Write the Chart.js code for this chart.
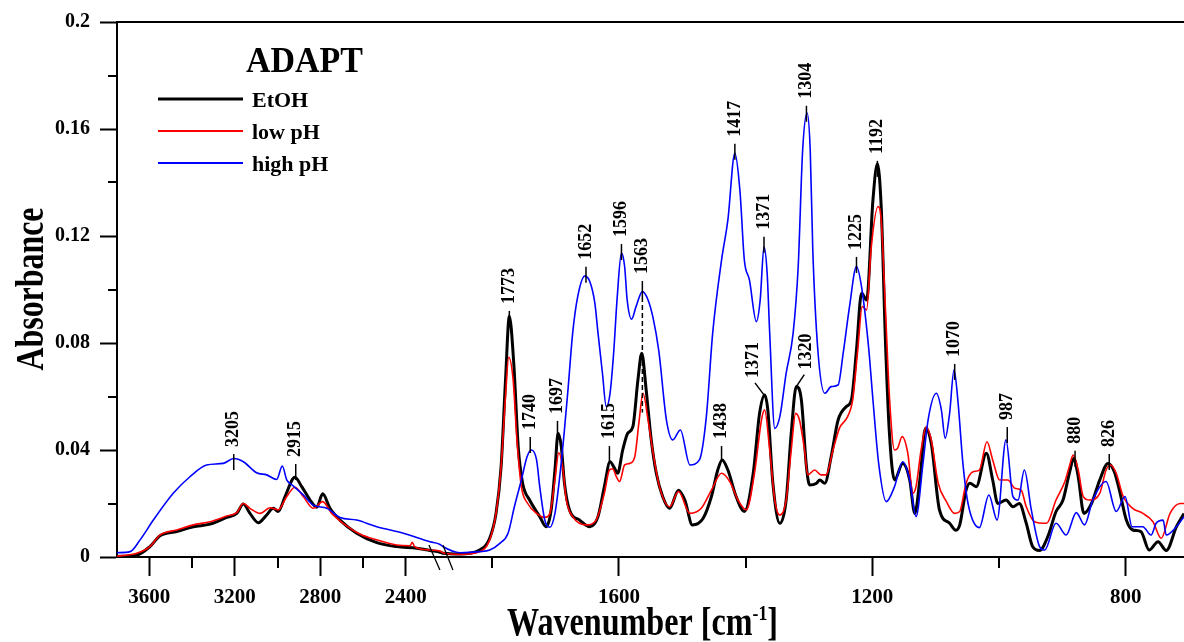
<!DOCTYPE html>
<html>
<head>
<meta charset="utf-8">
<script src="https://cdn.jsdelivr.net/npm/chart.js@4.4.1/dist/chart.umd.min.js"></script>
<style>
  html, body { margin: 0; padding: 0; background: #fff; }
</style>
</head>
<body>
<canvas id="spectrum" width="1184" height="642"></canvas>
<script>
/* ===== DATA ===== */
// EtOH
const etohWn = [
  3751, 3659, 3597, 3550, 3472, 3394, 3316, 3238, 3191, 3160,
  3129, 3090, 3051, 3020, 2997, 2965, 2919, 2887, 2848, 2817,
  2789, 2755, 2708, 2630, 2536, 2443, 2349, 2287, 2240, 1878,
  1851, 1820, 1804, 1794, 1786, 1779, 1773, 1766, 1759, 1752,
  1741, 1725, 1715, 1707, 1701, 1696, 1691, 1686, 1678, 1662,
  1646, 1633, 1623, 1614, 1607, 1602, 1594, 1586, 1578, 1570,
  1564, 1557, 1549, 1541, 1531, 1520, 1506, 1496, 1484, 1467,
  1454, 1444, 1437, 1428, 1415, 1402, 1388, 1378, 1370, 1365,
  1357, 1346, 1336, 1328, 1320, 1312, 1304, 1299, 1288, 1283,
  1275, 1265, 1254, 1241, 1233, 1225, 1217, 1209, 1199, 1192,
  1186, 1179, 1173, 1165, 1152, 1141, 1133, 1125, 1116, 1107,
  1094, 1078, 1068, 1062, 1052, 1046, 1036, 1020, 1010, 1002,
  989, 978, 968, 957, 947, 936, 923, 910, 899, 889,
  882, 875, 866, 854, 841, 828, 818, 810, 799, 789,
  776, 763, 749, 736, 720, 708
];
const etohAbs = [
  0.0002, 0.0007, 0.0039, 0.0079, 0.0095, 0.0113, 0.0123, 0.0148, 0.0163, 0.0198,
  0.0163, 0.0128, 0.0157, 0.0182, 0.0170, 0.0226, 0.0298, 0.0263, 0.0213, 0.0186,
  0.0236, 0.0182, 0.0138, 0.0089, 0.0054, 0.0039, 0.0033, 0.0024, 0.0018, 0.0014,
  0.0011, 0.0026, 0.0070, 0.0163, 0.0338, 0.0662, 0.0900, 0.0724, 0.0413, 0.0276,
  0.0213, 0.0151, 0.0113, 0.0176, 0.0325, 0.0463, 0.0413, 0.0276, 0.0176, 0.0138,
  0.0113, 0.0151, 0.0263, 0.0356, 0.0332, 0.0313, 0.0400, 0.0463, 0.0487, 0.0662,
  0.0762, 0.0625, 0.0438, 0.0313, 0.0226, 0.0182, 0.0250, 0.0213, 0.0120, 0.0145,
  0.0226, 0.0325, 0.0363, 0.0325, 0.0226, 0.0170, 0.0313, 0.0537, 0.0606, 0.0550,
  0.0276, 0.0126, 0.0213, 0.0463, 0.0637, 0.0587, 0.0338, 0.0269, 0.0276, 0.0288,
  0.0276, 0.0375, 0.0512, 0.0562, 0.0587, 0.0774, 0.0986, 0.0961, 0.1335, 0.1470,
  0.1310, 0.0787, 0.0463, 0.0288, 0.0350, 0.0288, 0.0163, 0.0288, 0.0481, 0.0425,
  0.0176, 0.0126, 0.0100, 0.0120, 0.0250, 0.0276, 0.0263, 0.0388, 0.0288, 0.0200,
  0.0213, 0.0188, 0.0200, 0.0126, 0.0039, 0.0024, 0.0076, 0.0170, 0.0213, 0.0313,
  0.0369, 0.0300, 0.0163, 0.0200, 0.0288, 0.0350, 0.0319, 0.0250, 0.0138, 0.0101,
  0.0095, 0.0026, 0.0057, 0.0024, 0.0113, 0.0163
];

// low pH
const lowWn = [
  3751, 3659, 3597, 3550, 3472, 3394, 3316, 3238, 3191, 3160,
  3129, 3082, 3035, 2997, 2957, 2919, 2880, 2833, 2789, 2747,
  2693, 2615, 2536, 2443, 2380, 2370, 2360, 2287, 2240, 1878,
  1851, 1820, 1804, 1794, 1786, 1779, 1774, 1767, 1761, 1754,
  1744, 1730, 1717, 1709, 1701, 1695, 1689, 1683, 1673, 1651,
  1636, 1623, 1615, 1610, 1604, 1599, 1591, 1583, 1575, 1568,
  1562, 1554, 1546, 1536, 1520, 1506, 1488, 1470, 1454, 1438,
  1425, 1412, 1399, 1386, 1375, 1370, 1362, 1354, 1346, 1336,
  1328, 1321, 1315, 1307, 1302, 1291, 1281, 1273, 1262, 1252,
  1239, 1231, 1223, 1216, 1209, 1202, 1191, 1186, 1179, 1173,
  1165, 1160, 1153, 1144, 1136, 1131, 1123, 1115, 1107, 1096,
  1083, 1070, 1062, 1052, 1041, 1031, 1019, 1010, 999, 986,
  975, 965, 957, 944, 925, 910, 896, 889, 883, 875,
  867, 857, 841, 831, 824, 815, 804, 789, 773, 757,
  744, 730, 714, 708
];
const lowAbs = [
  0.0003, 0.0014, 0.0039, 0.0082, 0.0101, 0.0120, 0.0132, 0.0153, 0.0166, 0.0200,
  0.0182, 0.0163, 0.0184, 0.0176, 0.0226, 0.0261, 0.0226, 0.0182, 0.0207, 0.0163,
  0.0126, 0.0086, 0.0064, 0.0045, 0.0042, 0.0055, 0.0040, 0.0026, 0.0022, 0.0016,
  0.0010, 0.0020, 0.0064, 0.0163, 0.0338, 0.0600, 0.0747, 0.0662, 0.0438, 0.0263,
  0.0200, 0.0163, 0.0148, 0.0163, 0.0288, 0.0390, 0.0338, 0.0213, 0.0151, 0.0120,
  0.0138, 0.0238, 0.0325, 0.0330, 0.0300, 0.0282, 0.0344, 0.0350, 0.0375, 0.0512,
  0.0612, 0.0512, 0.0388, 0.0263, 0.0188, 0.0245, 0.0163, 0.0182, 0.0250, 0.0313,
  0.0282, 0.0213, 0.0176, 0.0313, 0.0512, 0.0550, 0.0400, 0.0213, 0.0157, 0.0213,
  0.0400, 0.0537, 0.0512, 0.0400, 0.0307, 0.0325, 0.0307, 0.0307, 0.0400, 0.0481,
  0.0525, 0.0587, 0.0774, 0.0936, 0.0924, 0.1150, 0.1310, 0.1260, 0.0911, 0.0600,
  0.0400, 0.0407, 0.0450, 0.0388, 0.0238, 0.0263, 0.0400, 0.0487, 0.0438, 0.0276,
  0.0207, 0.0163, 0.0170, 0.0276, 0.0319, 0.0325, 0.0431, 0.0363, 0.0288, 0.0288,
  0.0257, 0.0250, 0.0188, 0.0132, 0.0126, 0.0213, 0.0282, 0.0338, 0.0381, 0.0325,
  0.0226, 0.0213, 0.0238, 0.0325, 0.0344, 0.0313, 0.0226, 0.0182, 0.0163, 0.0132,
  0.0070, 0.0163, 0.0200, 0.0200
];

// high pH
const highWn = [
  3751, 3690, 3643, 3581, 3488, 3410, 3332, 3254, 3205, 3160,
  3098, 3051, 3004, 2978, 2957, 2927, 2880, 2833, 2770, 2708,
  2630, 2536, 2412, 2287, 2240, 1878, 1851, 1820, 1804, 1788,
  1775, 1765, 1754, 1745, 1738, 1730, 1725, 1717, 1709, 1701,
  1694, 1686, 1680, 1673, 1665, 1654, 1646, 1638, 1633, 1626,
  1620, 1614, 1608, 1603, 1596, 1591, 1587, 1580, 1573, 1563,
  1554, 1546, 1537, 1525, 1515, 1503, 1488, 1473, 1462, 1452,
  1438, 1428, 1417, 1409, 1402, 1394, 1383, 1377, 1371, 1366,
  1362, 1354, 1346, 1336, 1325, 1317, 1310, 1303, 1298, 1294,
  1286, 1275, 1265, 1254, 1246, 1236, 1225, 1217, 1206, 1199,
  1190, 1178, 1165, 1152, 1141, 1131, 1120, 1112, 1099, 1091,
  1085, 1078, 1071, 1065, 1057, 1049, 1031, 1016, 1003, 989,
  978, 970, 960, 949, 936, 928, 910, 894, 878, 865,
  852, 831, 815, 801, 790, 773, 760, 752, 741, 736,
  720, 708
];
const highAbs = [
  0.0016, 0.0020, 0.0064, 0.0138, 0.0238, 0.0300, 0.0344, 0.0350, 0.0368, 0.0356,
  0.0315, 0.0307, 0.0290, 0.0340, 0.0288, 0.0266, 0.0232, 0.0194, 0.0182, 0.0148,
  0.0138, 0.0113, 0.0089, 0.0057, 0.0047, 0.0039, 0.0016, 0.0020, 0.0026, 0.0051,
  0.0089, 0.0188, 0.0288, 0.0375, 0.0400, 0.0363, 0.0263, 0.0138, 0.0111, 0.0163,
  0.0288, 0.0475, 0.0637, 0.0837, 0.0974, 0.1050, 0.1030, 0.0949, 0.0837, 0.0687,
  0.0562, 0.0612, 0.0774, 0.0961, 0.1136, 0.1086, 0.0961, 0.0889, 0.0936, 0.0992,
  0.0961, 0.0893, 0.0770, 0.0512, 0.0438, 0.0475, 0.0344, 0.0363, 0.0525, 0.0837,
  0.1110, 0.1260, 0.1510, 0.1370, 0.1110, 0.1036, 0.0880, 0.0961, 0.1160, 0.1060,
  0.0837, 0.0481, 0.0525, 0.0687, 0.0837, 0.1086, 0.1520, 0.1660, 0.1520, 0.1150,
  0.0774, 0.0612, 0.0637, 0.0643, 0.0762, 0.0936, 0.1086, 0.1010, 0.0787, 0.0587,
  0.0350, 0.0207, 0.0263, 0.0356, 0.0288, 0.0151, 0.0350, 0.0512, 0.0612, 0.0550,
  0.0444, 0.0537, 0.0700, 0.0587, 0.0350, 0.0201, 0.0110, 0.0232, 0.0138, 0.0438,
  0.0226, 0.0213, 0.0325, 0.0176, 0.0039, 0.0026, 0.0126, 0.0082, 0.0166, 0.0120,
  0.0213, 0.0282, 0.0170, 0.0226, 0.0113, 0.0113, 0.0082, 0.0126, 0.0138, 0.0082,
  0.0113, 0.0151
];

// peak labels: text, absorbance at the foot of the marker, sideways shift of the label (px)
const peakLabels = ['3205', '2915', '1773', '1740', '1697', '1652', '1615', '1596', '1563', '1438',
  '1417', '1371', '1371', '1320', '1304', '1225', '1192', '1070', '987', '880', '826'];
const peakAbs = [0.0325, 0.0288, 0.0860, 0.0389, 0.0449, 0.1025, 0.0355, 0.1110, 0.0972, 0.0355,
  0.1485, 0.1137, 0.0606, 0.0637, 0.1627, 0.1062, 0.1421, 0.0662, 0.0426, 0.0337, 0.0325];
const peakShift = [0, 0, 0, 0, 0, 0, 0, 0, 0, 0,
  0, 0, -11, 10, 0, 0, 0, 0, 0, 0, 0];
// dashed drop line under 1563
const dropWn = 1563, dropTop = 0.0972, dropBottom = 0.054;

// axis ticks
const xTickWn = [3600, 3400, 3200, 3000, 2800, 2600, 2400, 1800, 1600, 1400, 1200, 1000, 800];
const xTickLabels = ['3600', '', '3200', '', '2800', '', '2400', '', '1600', '', '1200', '', '800'];
const yTickVals = [0, 0.02, 0.04, 0.06, 0.08, 0.1, 0.12, 0.14, 0.16, 0.18, 0.2];
const yTickLabels = ['0', '', '0.04', '', '0.08', '', '0.12', '', '0.16', '', '0.2'];

/* ===== BROKEN X AXIS ===== */
const LEFT_START = 3751, BREAK_LEFT = 2236, BREAK_RIGHT = 1881, RIGHT_END = 708;
const LEFT_SQUEEZE = 0.3375;
const U_BREAK = (LEFT_START - BREAK_LEFT) * LEFT_SQUEEZE;
const U_MAX = U_BREAK + (BREAK_RIGHT - RIGHT_END);

function toU(w) {
  return w >= BREAK_LEFT ? (LEFT_START - w) * LEFT_SQUEEZE : U_BREAK + (BREAK_RIGHT - w);
}
function pts(wn, abs) {
  return wn.map((w, i) => ({ x: toU(w), y: abs[i] }));
}

const SERIF = '"Liberation Serif", "Times New Roman", serif';
Chart.defaults.font.family = SERIF;
Chart.defaults.color = '#000';

function line(ctx, x1, y1, x2, y2) {
  ctx.beginPath(); ctx.moveTo(x1, y1); ctx.lineTo(x2, y2); ctx.stroke();
}
// text squeezed to a given width (the axis titles use a narrow face)
function fitText(ctx, text, x, y, width) {
  const w = ctx.measureText(text).width;
  ctx.save();
  ctx.translate(x, y);
  ctx.scale(width / w, 1);
  ctx.fillText(text, 0, 0);
  ctx.restore();
}

/* ===== DECORATION ===== */
const decor = {
  id: 'decor',
  afterDraw(chart) {
    const { ctx, chartArea: a, scales: { x, y } } = chart;
    ctx.save();
    ctx.strokeStyle = '#000';
    ctx.fillStyle = '#000';

    // top frame + minor ticks
    ctx.lineWidth = 2;
    line(ctx, a.left, a.top, a.right, a.top);
    x.ticks.forEach((t, i) => {
      if (xTickLabels[i]) return;
      const px = Math.round(x.getPixelForValue(t.value));
      line(ctx, px, a.bottom, px, a.bottom + 11);
    });
    y.ticks.forEach((t, i) => {
      if (yTickLabels[i]) return;
      const py = Math.round(y.getPixelForValue(t.value));
      line(ctx, a.left - 9, py, a.left, py);
    });

    // axis break marks
    const bx = x.getPixelForValue(U_BREAK);
    ctx.lineWidth = 1.3;
    line(ctx, bx - 12, a.bottom - 12, bx - 1, a.bottom + 13);
    line(ctx, bx + 2, a.bottom - 12, bx + 12, a.bottom + 13);

    // peak markers and labels
    ctx.font = 'bold 18px ' + SERIF;
    ctx.textAlign = 'left';
    ctx.textBaseline = 'middle';
    ctx.lineWidth = 1.5;
    peakLabels.forEach((lab, i) => {
      const px = x.getPixelForValue(toU(Number(lab)));
      const py = y.getPixelForValue(peakAbs[i]);
      let tx = px, ty;
      if (peakShift[i]) {
        tx = px + peakShift[i];
        line(ctx, px, py, tx - Math.sign(peakShift[i]) * 2, py - 12);
        ty = py - 17;
      } else {
        line(ctx, px, py, px, py - 16);
        ty = py - 23;
      }
      ctx.save();
      ctx.translate(tx, ty);
      ctx.rotate(-Math.PI / 2);
      ctx.fillText(lab, 0, 0);
      ctx.restore();
    });
    const dx = x.getPixelForValue(toU(dropWn));
    ctx.setLineDash([5, 3]);
    line(ctx, dx, y.getPixelForValue(dropTop), dx, y.getPixelForValue(dropBottom));
    ctx.setLineDash([]);

    // title and legend
    ctx.textAlign = 'left';
    ctx.textBaseline = 'alphabetic';
    ctx.font = 'bold 36px ' + SERIF;
    fitText(ctx, 'ADAPT', 246, 72, 117);
    ctx.font = 'bold 22px ' + SERIF;
    chart.data.datasets.forEach((ds, i) => {
      const ly = 99 + i * 32;
      ctx.strokeStyle = ds.borderColor;
      ctx.lineWidth = i === 0 ? 3 : 2;
      line(ctx, 158, ly, 243, ly);
      ctx.fillText(ds.label, 252, ly + 8);
    });

    // axis titles
    ctx.fillStyle = '#000';
    ctx.font = 'bold 40px ' + SERIF;
    ctx.save();
    ctx.translate(43, 289);
    ctx.rotate(-Math.PI / 2);
    ctx.textAlign = 'center';
    fitText(ctx, 'Absorbance', 0, 0, 163);
    ctx.restore();

    const main = 'Wavenumber [cm', sup = '-1', end = ']';
    ctx.font = 'bold 40px ' + SERIF;
    const w1 = ctx.measureText(main).width, w3 = ctx.measureText(end).width;
    ctx.font = 'bold 22px ' + SERIF;
    const w2 = ctx.measureText(sup).width;
    const k = 271 / (w1 + w2 + w3);
    ctx.save();
    ctx.translate(507, 635);
    ctx.scale(k, 1);
    ctx.textAlign = 'left';
    ctx.font = 'bold 40px ' + SERIF;
    ctx.fillText(main, 0, 0);
    ctx.fillText(end, w1 + w2, 0);
    ctx.font = 'bold 22px ' + SERIF;
    ctx.fillText(sup, w1, -15);
    ctx.restore();

    ctx.restore();
  }
};

/* ===== CHART ===== */
new Chart(document.getElementById('spectrum'), {
  type: 'line',
  data: {
    datasets: [
      { label: 'EtOH', data: pts(etohWn, etohAbs), borderColor: '#000000', borderWidth: 3, order: 2 },
      { label: 'low pH', data: pts(lowWn, lowAbs), borderColor: '#ff0000', borderWidth: 1.6, order: 1 },
      { label: 'high pH', data: pts(highWn, highAbs), borderColor: '#0000ff', borderWidth: 1.6, order: 0 }
    ]
  },
  options: {
    responsive: false,
    animation: false,
    events: [],
    layout: { padding: { top: 22, right: 0, left: 0, bottom: 0 } },
    elements: {
      point: { radius: 0 },
      line: { cubicInterpolationMode: 'monotone', fill: false }
    },
    plugins: { legend: { display: false }, tooltip: { enabled: false } },
    scales: {
      x: {
        type: 'linear',
        min: 0,
        max: U_MAX,
        afterFit: s => { s.height = 85; },
        afterBuildTicks: s => { s.ticks = xTickWn.map(w => ({ value: toU(w) })); },
        grid: {
          drawOnChartArea: false,
          tickLength: 19,
          tickWidth: 2,
          tickColor: c => (xTickLabels[c.index] ? '#000' : 'rgba(0,0,0,0)')
        },
        border: { color: '#000', width: 2 },
        ticks: {
          autoSkip: false,
          maxRotation: 0,
          padding: 9,
          font: { size: 21, weight: 'bold' },
          callback: (v, i) => xTickLabels[i]
        }
      },
      y: {
        min: 0,
        max: 0.2,
        afterFit: s => { s.width = 117; },
        afterBuildTicks: s => { s.ticks = yTickVals.map(v => ({ value: v })); },
        grid: {
          drawOnChartArea: false,
          tickLength: 17,
          tickWidth: 2,
          tickColor: c => (yTickLabels[c.index] ? '#000' : 'rgba(0,0,0,0)')
        },
        border: { color: '#000', width: 2 },
        ticks: {
          autoSkip: false,
          padding: 10,
          font: { size: 20, weight: 'bold' },
          callback: (v, i) => yTickLabels[i]
        }
      }
    }
  },
  plugins: [decor]
});
</script>
</body>
</html>
